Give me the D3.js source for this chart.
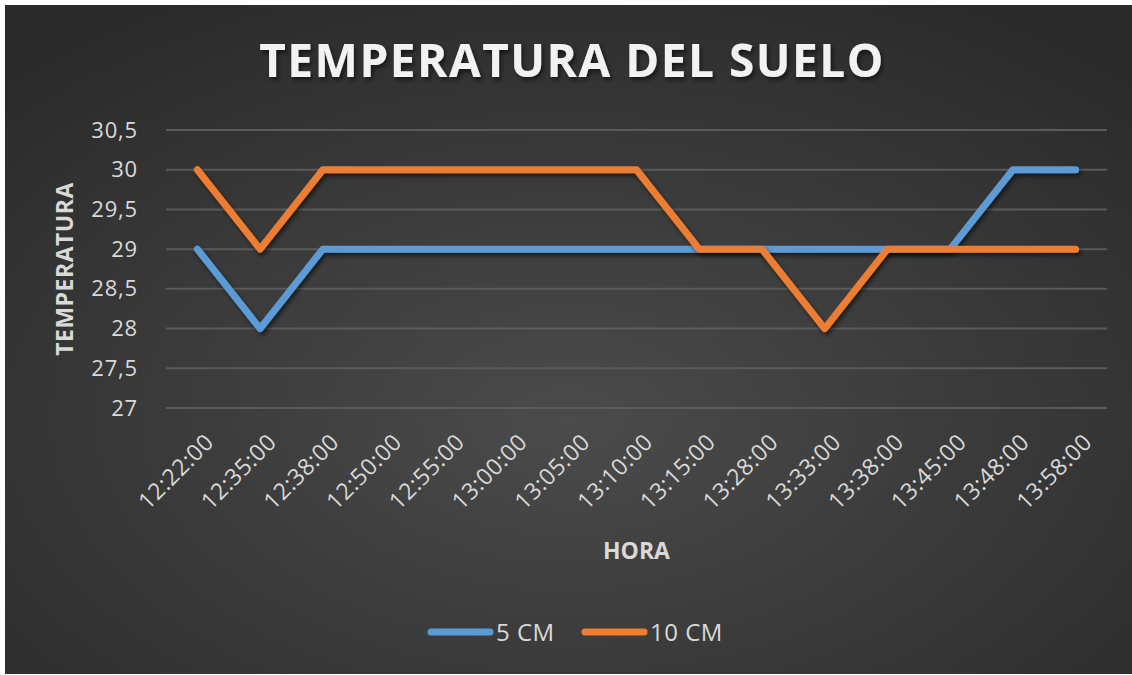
<!DOCTYPE html>
<html>
<head>
<meta charset="utf-8">
<script src="https://cdn.jsdelivr.net/npm/d3@7"></script>
<style>
  body { margin: 0; background: #fff; }
  svg text { font-family: "Open Sans", sans-serif; }
</style>
</head>
<body>
<script>
// data
var horas = ["12:22:00", "12:35:00", "12:38:00", "12:50:00", "12:55:00", "13:00:00", "13:05:00",
  "13:10:00", "13:15:00", "13:28:00", "13:33:00", "13:38:00", "13:45:00", "13:48:00", "13:58:00"];
var cm5 = [29, 28, 29, 29, 29, 29, 29, 29, 29, 29, 29, 29, 29, 30, 30];
var cm10 = [30, 29, 30, 30, 30, 30, 30, 30, 29, 29, 28, 29, 29, 29, 29];
var yTicks = [27, 27.5, 28, 28.5, 29, 29.5, 30, 30.5];
var seriesNames = ["5 CM", "10 CM"];
var seriesColors = ["#5b9bd5", "#ed7d31"];

var w = 1132, h = 675;
// plot area (note: "top" is taken by window.top)
var pLeft = 166, pRight = 1107, pTop = 130, pBottom = 408;

var svg = d3.select("body").append("svg")
  .attr("width", w)
  .attr("height", h);

var defs = svg.append("defs");
var grad = defs.append("radialGradient")
  .attr("id", "bg")
  .attr("cx", "50%").attr("cy", "62%").attr("r", "72%");
grad.append("stop").attr("offset", "0%").attr("stop-color", "#4b4b4b");
grad.append("stop").attr("offset", "100%").attr("stop-color", "#2a2a2a");

var shadow = defs.append("filter").attr("id", "shadow")
  .attr("x", "-10%").attr("y", "-10%").attr("width", "120%").attr("height", "130%");
shadow.append("feDropShadow")
  .attr("dx", 2).attr("dy", 3).attr("stdDeviation", 2)
  .attr("flood-color", "#000").attr("flood-opacity", 0.55);

// chart background (white frame left/top like the screenshot)
svg.append("rect")
  .attr("x", 5).attr("y", 5)
  .attr("width", w - 5).attr("height", h - 6)
  .attr("fill", "url(#bg)");

var x = d3.scaleBand().domain(horas).range([pLeft, pRight]);
var y = d3.scaleLinear().domain([27, 30.5]).range([pBottom, pTop]);

// gridlines
svg.append("g")
  .selectAll("line")
  .data(yTicks)
  .enter()
  .append("line")
  .attr("x1", pLeft).attr("x2", pRight)
  .attr("y1", function(d) { return y(d); })
  .attr("y2", function(d) { return y(d); })
  .attr("stroke", "#5a5a5a")
  .attr("stroke-width", 2);

// y axis labels
var yAxis = d3.axisLeft(y).tickValues(yTicks).tickSize(0).tickPadding(28)
  .tickFormat(function(d) { return String(d).replace(".", ","); });
var gy = svg.append("g").attr("transform", "translate(" + pLeft + ",0)").call(yAxis);
gy.select(".domain").remove();
gy.selectAll("text")
  .attr("fill", "#d9d9d9")
  .attr("font-size", 22)
  .attr("letter-spacing", 0.8)
  .style("font-family", "'Open Sans', sans-serif");

// x axis labels, rotated
var xAxis = d3.axisBottom(x).tickSize(0).tickPadding(0);
var gx = svg.append("g").attr("transform", "translate(0," + (pBottom + 30) + ")").call(xAxis);
gx.select(".domain").remove();
gx.selectAll("text")
  .attr("fill", "#d9d9d9")
  .attr("font-size", 23)
  .attr("letter-spacing", 0.5)
  .style("font-family", "'Open Sans', sans-serif")
  .attr("text-anchor", "end")
  .attr("dy", "0.35em")
  .attr("transform", "translate(12,0) rotate(-45)");

// lines
var line = d3.line()
  .x(function(d, i) { return x(horas[i]) + x.bandwidth() / 2; })
  .y(function(d) { return y(d); });

[cm5, cm10].forEach(function(s, i) {
  svg.append("path")
    .datum(s)
    .attr("d", line)
    .attr("fill", "none")
    .attr("stroke", seriesColors[i])
    .attr("stroke-width", 7)
    .attr("stroke-linejoin", "round")
    .attr("stroke-linecap", "round")
    .attr("filter", "url(#shadow)");
});

// title
svg.append("text")
  .attr("x", 572).attr("y", 77)
  .attr("text-anchor", "middle")
  .attr("font-size", 46)
  .attr("font-weight", "bold")
  .attr("letter-spacing", 1.5)
  .attr("fill", "#f2f2f2")
  .attr("filter", "url(#shadow)")
  .text("TEMPERATURA DEL SUELO");

// axis titles
svg.append("text")
  .attr("x", (pLeft + pRight) / 2).attr("y", 559)
  .attr("text-anchor", "middle")
  .attr("font-size", 23)
  .attr("font-weight", "bold")
  .attr("fill", "#d9d9d9")
  .text("HORA");

svg.append("text")
  .attr("transform", "translate(73," + ((pTop + pBottom) / 2) + ") rotate(-90)")
  .attr("text-anchor", "middle")
  .attr("font-size", 23)
  .attr("font-weight", "bold")
  .attr("letter-spacing", 0.5)
  .attr("fill", "#d9d9d9")
  .text("TEMPERATURA");

// legend
var legendX = [428, 582];
seriesNames.forEach(function(name, i) {
  svg.append("line")
    .attr("x1", legendX[i] + 3).attr("x2", legendX[i] + 62)
    .attr("y1", 632).attr("y2", 632)
    .attr("stroke", seriesColors[i])
    .attr("stroke-width", 7)
    .attr("stroke-linecap", "round");
  svg.append("text")
    .attr("x", legendX[i] + 68).attr("y", 641)
    .attr("font-size", 24)
    .attr("letter-spacing", 0.5)
    .attr("fill", "#d9d9d9")
    .text(name);
});
</script>
</body>
</html>
